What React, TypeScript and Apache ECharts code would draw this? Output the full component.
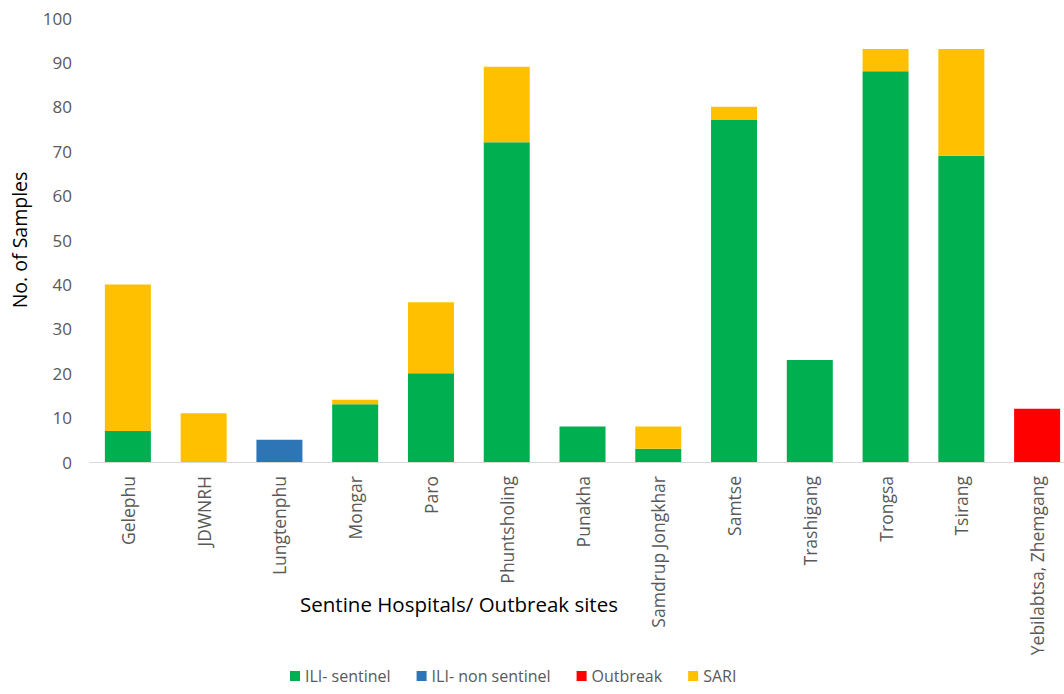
import React, { useEffect, useRef } from "react";
import * as echarts from "echarts";

const categories = [
  "Gelephu", "JDWNRH", "Lungtenphu", "Mongar", "Paro", "Phuntsholing", "Punakha",
  "Samdrup Jongkhar", "Samtse", "Trashigang", "Trongsa", "Tsirang", "Yebilabtsa, Zhemgang",
];
const iliSentinel = [7, 0, 0, 13, 20, 72, 8, 3, 77, 23, 88, 69, 0];
const iliNonSentinel = [0, 0, 5, 0, 0, 0, 0, 0, 0, 0, 0, 0, 0];
const outbreak = [0, 0, 0, 0, 0, 0, 0, 0, 0, 0, 0, 0, 12];
const sari = [33, 11, 0, 1, 16, 17, 0, 5, 3, 0, 5, 24, 0];
const yTicks = { min: 0, max: 100, interval: 10 };

const FONT = "'Open Sans', 'Liberation Sans', sans-serif";

export default function App() {
  const ref = useRef<HTMLDivElement>(null);
  useEffect(() => {
    const chart = echarts.init(ref.current!, null, { renderer: "svg" });
    const mk = (name: string, data: number[], color: string) => ({
      name,
      type: "bar",
      stack: "total",
      data: data.map((v) => (v === 0 ? null : v)),
      barWidth: 46,
      itemStyle: { color },
    });
    chart.setOption({
      animation: false,
      textStyle: { fontFamily: FONT },
      grid: { left: 90, top: 18, width: 985, height: 444, containLabel: false },
      xAxis: {
        type: "category",
        data: categories,
        axisLine: { lineStyle: { color: "#d9d9d9", width: 1 } },
        axisTick: { show: false },
        axisLabel: { rotate: 90, color: "#595959", fontSize: 17.5, margin: 14, fontFamily: FONT },
      },
      yAxis: {
        type: "value",
        min: yTicks.min,
        max: yTicks.max,
        interval: yTicks.interval,
        splitLine: { show: false },
        axisLine: { show: false },
        axisTick: { show: false },
        axisLabel: { color: "#595959", fontSize: 17, margin: 18, fontFamily: FONT },
        name: "No. of Samples",
        nameLocation: "middle",
        nameGap: 61,
        nameTextStyle: { color: "#000", fontSize: 19.5, fontFamily: FONT },
      },
      legend: {
        left: 286,
        top: 664,
        padding: 4,
        itemWidth: 10,
        itemHeight: 10,
        itemGap: 26,
        icon: "rect",
        textStyle: { color: "#595959", fontSize: 16, fontFamily: FONT },
        data: ["ILI- sentinel", "ILI- non sentinel", "Outbreak", "SARI"],
      },
      graphic: [
        {
          type: "text",
          left: 300,
          top: 593,
          style: { text: "Sentine Hospitals/ Outbreak sites", fill: "#000", fontSize: 20.5, fontFamily: FONT },
        },
      ],
      series: [
        mk("ILI- sentinel", iliSentinel, "#00B050"),
        mk("ILI- non sentinel", iliNonSentinel, "#2E75B6"),
        mk("Outbreak", outbreak, "#FF0000"),
        mk("SARI", sari, "#FFC000"),
      ],
    });
    return () => chart.dispose();
  }, []);
  return (
    <div style={{ width: 1064, height: 694, position: "absolute", left: 0, top: 0, overflow: "hidden" }}>
      <div ref={ref} style={{ width: 1090, height: 694 }} />
    </div>
  );
}
